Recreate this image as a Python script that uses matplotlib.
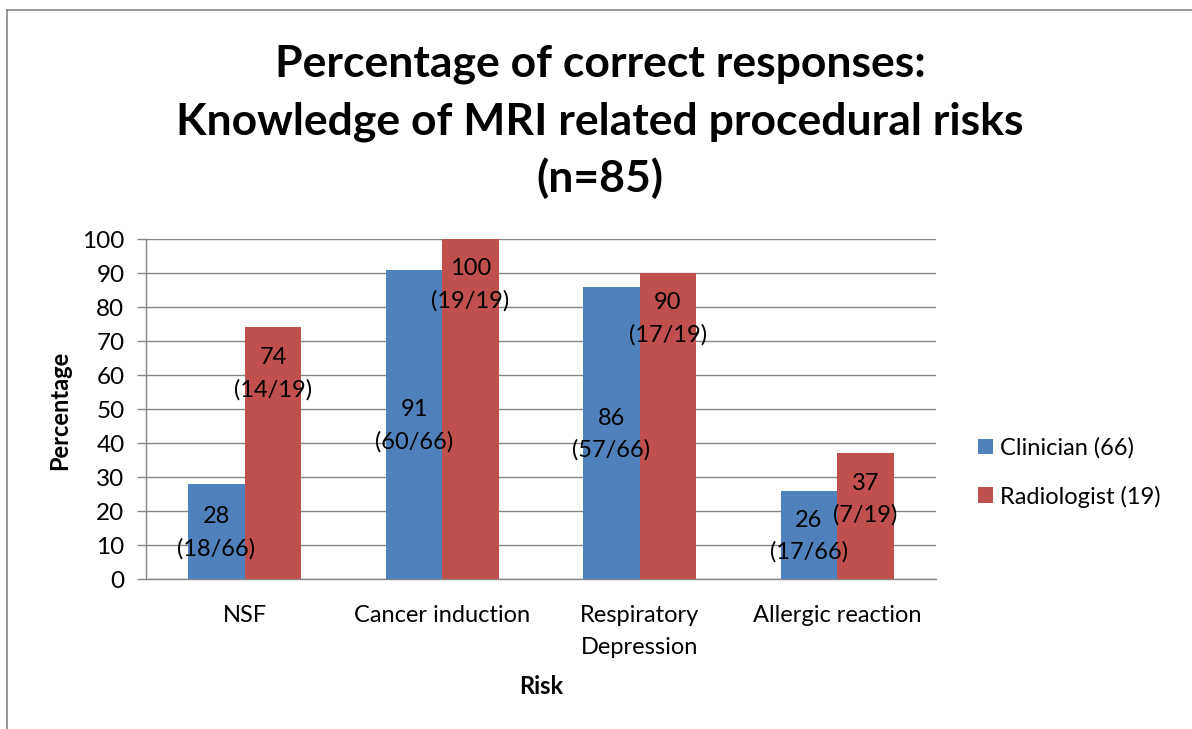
import matplotlib
matplotlib.use('Agg')
import matplotlib.pyplot as plt
from matplotlib.lines import Line2D
import numpy as np

# ---- data ----
categories = ['NSF', 'Cancer induction', 'Respiratory\nDepression', 'Allergic reaction']
series_names = ['Clinician (66)', 'Radiologist (19)']
clinician = [28, 91, 86, 26]
radiologist = [74, 100, 90, 37]
clinician_counts = ['(18/66)', '(60/66)', '(57/66)', '(17/66)']
radiologist_counts = ['(14/19)', '(19/19)', '(17/19)', '(7/19)']
yticks = [0, 10, 20, 30, 40, 50, 60, 70, 80, 90, 100]
title_lines = ['Percentage of correct responses:',
               'Knowledge of MRI related procedural risks',
               '(n=85)']
xlabel = 'Risk'
ylabel = 'Percentage'

plt.rcParams['font.family'] = ['Lato', 'DejaVu Sans']

W, H = 1192, 729
fig = plt.figure(figsize=(W / 100, H / 100), dpi=100)
fig.patch.set_facecolor('white')

ax = fig.add_axes([146 / W, 1 - 579 / H, 790 / W, 340 / H])

BLUE = '#4F81BD'
RED = '#C0504D'
GRID = '#868686'
FS = 17

x = np.arange(len(categories))
w = 0.286
b1 = ax.bar(x - w / 2, clinician, w, color=BLUE, label=series_names[0], zorder=3)
b2 = ax.bar(x + w / 2, radiologist, w, color=RED, label=series_names[1], zorder=3)

ax.set_xlim(-0.5, len(categories) - 0.5)
ax.set_ylim(0, 100)
ax.set_yticks(yticks)
ax.set_xticks(x)
ax.set_xticklabels(categories, fontsize=FS, linespacing=1.65)
ax.tick_params(axis='x', length=0, pad=18.5)
ax.tick_params(axis='y', length=6.5, color=GRID, width=1.0, pad=9, labelsize=FS + 0.5)

ax.set_axisbelow(True)
ax.yaxis.grid(True, color=GRID, linewidth=1.0)
for s in ['top', 'right']:
    ax.spines[s].set_visible(False)
for s in ['left', 'bottom']:
    ax.spines[s].set_color(GRID)
    ax.spines[s].set_linewidth(1.0)

# data labels
for xi, v, c in zip(x, clinician, clinician_counts):
    ax.annotate(f"{v}\n{c}", xy=(xi - w / 2, v / 2), xytext=(0, -1.5),
                textcoords='offset pixels', ha='center', va='center',
                fontsize=FS, linespacing=1.62, zorder=5)
for xi, v, c in zip(x, radiologist, radiologist_counts):
    ax.annotate(f"{v}\n{c}", xy=(xi + w / 2, v), xytext=(0, -46),
                textcoords='offset pixels', ha='center', va='center',
                fontsize=FS, linespacing=1.62, zorder=5)

# title lines
for line, base in zip(title_lines, [77, 135, 192]):
    fig.text(600 / W, 1 - base / H, line, ha='center', va='baseline',
             fontsize=32, fontweight='bold')

# axis labels
fig.text(60 / W, 1 - 410 / H, ylabel, rotation=90, ha='center', va='center',
         fontsize=FS, fontweight='bold')
fig.text(541 / W, 1 - 687 / H, xlabel, ha='center', va='center',
         fontsize=FS, fontweight='bold')

# legend
ax.legend(loc='center left', bbox_to_anchor=(978 / W, 1 - 472.5 / H),
          bbox_transform=fig.transFigure, frameon=False, fontsize=FS,
          handlelength=0.64, handleheight=0.64, handletextpad=0.3,
          labelspacing=1.12, borderpad=0, borderaxespad=0)

# chart-area frame
fig.add_artist(Line2D([7 / W, 1.0], [1 - 10 / H, 1 - 10 / H], color=GRID, lw=1.2,
                      transform=fig.transFigure))
fig.add_artist(Line2D([7 / W, 7 / W], [1 - 10 / H, 0.0], color=GRID, lw=1.2,
                      transform=fig.transFigure))

fig.savefig('out.png', dpi=100)
